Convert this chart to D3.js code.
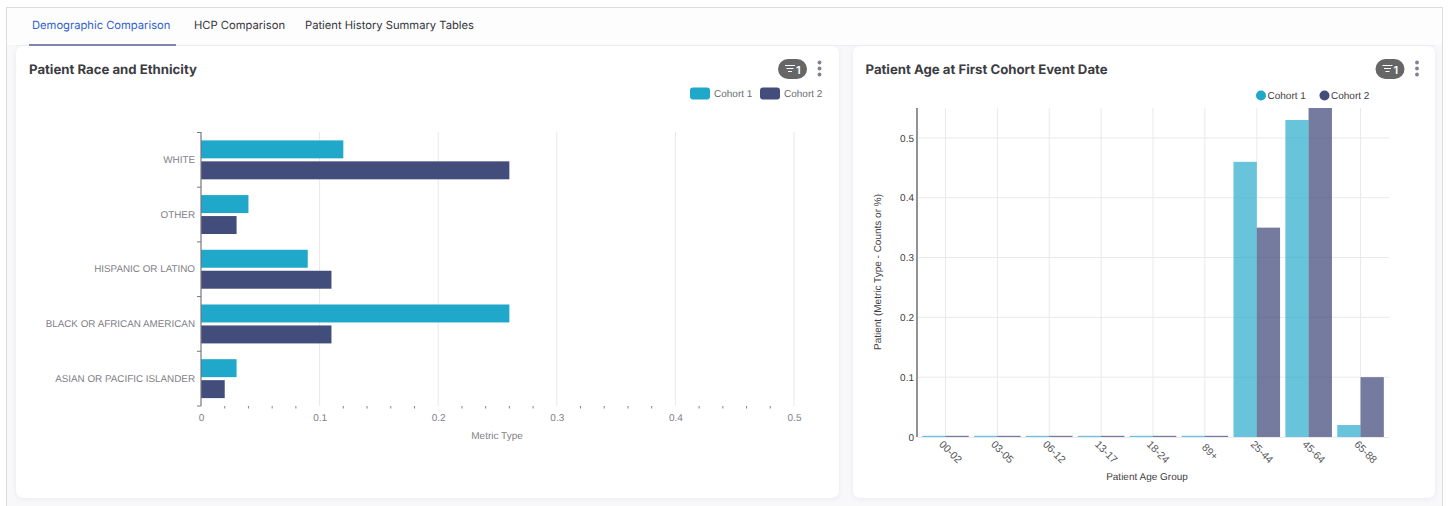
<!DOCTYPE html>
<html>
<head>
<meta charset="utf-8">
<script src="https://cdn.jsdelivr.net/npm/d3@7"></script>
<style>
  html, body { margin: 0; padding: 0; background: #fff; overflow: hidden; }
  svg { display: block; text-rendering: geometricPrecision; }
  text { font-family: "Liberation Sans", Arial, sans-serif; }
  .ui { font-family: "Inter", "Noto Sans", sans-serif; }
</style>
</head>
<body>
<svg id="page" width="1449" height="506"></svg>
<script>
// Race and ethnicity panel
const raceCategories = ["WHITE", "OTHER", "HISPANIC OR LATINO", "BLACK OR AFRICAN AMERICAN", "ASIAN OR PACIFIC ISLANDER"];
const raceCohort1 = [0.12, 0.04, 0.09, 0.26, 0.03];
const raceCohort2 = [0.26, 0.03, 0.11, 0.11, 0.02];
const raceTicks = [0, 0.1, 0.2, 0.3, 0.4, 0.5];
const raceMinorTicks = [0.02, 0.04, 0.06, 0.08, 0.12, 0.14, 0.16, 0.18, 0.22, 0.24, 0.26, 0.28, 0.32, 0.34, 0.36, 0.38, 0.42, 0.44, 0.46, 0.48];

// Age panel
const ageGroups = ["00-02", "03-05", "06-12", "13-17", "18-24", "89+", "25-44", "45-64", "65-88"];
const ageCohort1 = [0.002, 0.002, 0.002, 0.002, 0.002, 0.002, 0.46, 0.53, 0.02];
const ageCohort2 = [0.002, 0.002, 0.002, 0.002, 0.002, 0.002, 0.35, 0.55, 0.10];
const ageTicks = [0, 0.1, 0.2, 0.3, 0.4, 0.5];

const tabs = ["Demographic Comparison", "HCP Comparison", "Patient History Summary Tables"];
const seriesNames = ["Cohort 1", "Cohort 2"];
const TEAL = "#1fa8ca";
const NAVY = "#434d7c";

const svg = d3.select("#page");

// Page shell: outer frame and the two cards
svg.append("rect").attr("width", 1449).attr("height", 506).attr("fill", "#ffffff");
svg.append("rect").attr("x", 6.5).attr("y", 7.5).attr("width", 1436).attr("height", 510)
  .attr("fill", "#f8f8fb").attr("stroke", "#dcdce0");
svg.append("rect").attr("x", 7).attr("y", 8).attr("width", 1435).attr("height", 37).attr("fill", "#fdfdfe");

const defs = svg.append("defs");
const shadow = defs.append("filter").attr("id", "cardShadow")
  .attr("x", "-2%").attr("y", "-2%").attr("width", "104%").attr("height", "104%");
shadow.append("feDropShadow").attr("dx", 0).attr("dy", 1).attr("stdDeviation", 2)
  .attr("flood-color", "#c9c9d8").attr("flood-opacity", 0.35);

[[16, 46, 823, 452], [853, 46, 582, 452]].forEach(([x, y, w, h]) => {
  svg.append("rect").attr("x", x).attr("y", y).attr("width", w).attr("height", h)
    .attr("rx", 7).attr("fill", "#fff").attr("filter", "url(#cardShadow)");
});

// Tab strip
svg.append("line").attr("x1", 16).attr("x2", 1435).attr("y1", 45.5).attr("y2", 45.5).attr("stroke", "#ecedf2");
const tabX = [32, 194, 305];
tabs.forEach((t, i) => {
  svg.append("text").attr("class", "ui").attr("x", tabX[i]).attr("y", 29)
    .attr("font-size", 11.2).attr("fill", i === 0 ? "#2f62c9" : "#34363d").text(t);
});
svg.append("rect").attr("x", 29).attr("y", 44).attr("width", 147).attr("height", 2).attr("fill", "#7f86ad");

// Card header: title, filter pill and overflow dots
function cardHeader(title, titleX, pillX, dotsX) {
  svg.append("text").attr("class", "ui").attr("x", titleX).attr("y", 74)
    .attr("font-size", 13.2).attr("font-weight", 700).attr("fill", "#3c3d42").text(title);
  svg.append("rect").attr("x", pillX).attr("y", 59).attr("width", 29).attr("height", 20)
    .attr("rx", 10).attr("fill", "#666666");
  [[0, 10], [1.5, 7], [3, 4]].forEach(([inset, w], i) => {
    svg.append("line").attr("x1", pillX + 7 + inset).attr("x2", pillX + 7 + inset + w)
      .attr("y1", 65.5 + i * 3).attr("y2", 65.5 + i * 3).attr("stroke", "#fff").attr("stroke-width", 1);
  });
  svg.append("text").attr("class", "ui").attr("x", pillX + 18).attr("y", 73.5)
    .attr("font-size", 11).attr("font-weight", 600).attr("fill", "#fff").text("1");
  [62.5, 68.5, 74.5].forEach(cy => {
    svg.append("circle").attr("cx", dotsX).attr("cy", cy).attr("r", 1.9).attr("fill", "#7d8390");
  });
}
cardHeader("Patient Race and Ethnicity", 29, 778, 819.5);
cardHeader("Patient Age at First Cohort Event Date", 865.5, 1375.5, 1417);

// ---- Horizontal grouped bars ----
const raceX = d3.scaleLinear().domain([0, 0.5]).range([201, 794]);
const raceY = d3.scaleBand().domain(raceCategories).range([132.5, 406]);
const raceInner = d3.scaleBand().domain(seriesNames).range([0, raceY.bandwidth()]).paddingInner(0.143).paddingOuter(0.376);

svg.append("g").selectAll("line").data(raceTicks.slice(1)).join("line")
  .attr("x1", d => raceX(d)).attr("x2", d => raceX(d))
  .attr("y1", 132).attr("y2", 406).attr("stroke", "#e7e8ef").attr("stroke-width", 1);

seriesNames.forEach((name, s) => {
  const values = s === 0 ? raceCohort1 : raceCohort2;
  svg.append("g").selectAll("rect").data(raceCategories).join("rect")
    .attr("x", raceX(0))
    .attr("y", d => raceY(d) + raceInner(name))
    .attr("width", (d, i) => raceX(values[i]) - raceX(0))
    .attr("height", raceInner.bandwidth())
    .attr("fill", s === 0 ? TEAL : NAVY);
});

// Band-edge ticks on the category axis
const raceLeft = svg.append("g").attr("transform", "translate(201,0)");
raceLeft.append("line").attr("y1", 132).attr("y2", 406).attr("stroke", "#77787f").attr("stroke-width", 1.2);
raceLeft.selectAll("line.edge")
  .data(d3.range(raceCategories.length + 1).map(i => 132.5 + i * raceY.step()))
  .join("line").attr("class", "edge")
  .attr("x1", -4).attr("x2", 0).attr("y1", d => d).attr("y2", d => d).attr("stroke", "#77787f");
svg.append("g").selectAll("text").data(raceCategories).join("text")
  .attr("x", 195).attr("y", d => raceY(d) + raceY.bandwidth() / 2)
  .attr("text-anchor", "end").attr("dy", "0.32em")
  .attr("font-size", 9.85).attr("fill", "#7f8087").text(d => d);

const raceAxis = d3.axisBottom(raceX).tickValues(raceTicks).tickSize(0).tickPadding(0)
  .tickFormat(d => d === 0 ? "0" : d3.format(".1f")(d));
const raceAxisG = svg.append("g").attr("transform", "translate(0,406)").call(raceAxis);
raceAxisG.select(".domain").remove();
raceAxisG.selectAll("text").attr("y", 8).attr("dy", "0.71em")
  .attr("font-size", 10).attr("fill", "#7f8087")
  .style("font-family", '"Liberation Sans", Arial, sans-serif');

svg.append("g").selectAll("line").data(raceMinorTicks).join("line")
  .attr("x1", d => raceX(d)).attr("x2", d => raceX(d))
  .attr("y1", 406).attr("y2", 408.5).attr("stroke", "#85868d");

svg.append("text").attr("x", 497).attr("y", 439).attr("text-anchor", "middle")
  .attr("font-size", 10).attr("fill", "#7f8087").text("Metric Type");

// Rectangular legend
const rectLegendX = [690, 760];
seriesNames.forEach((name, i) => {
  svg.append("rect").attr("x", rectLegendX[i]).attr("y", 87.5).attr("width", 20).attr("height", 12)
    .attr("rx", 3).attr("fill", i === 0 ? TEAL : NAVY);
  svg.append("text").attr("x", rectLegendX[i] + 24).attr("y", 97)
    .attr("font-size", 10).attr("fill", "#6c6d74").text(name);
});

// ---- Vertical grouped bars ----
const ageX = d3.scaleBand().domain(ageGroups).range([919.5, 1386.5]);
const ageY = d3.scaleLinear().domain([0, 0.55]).range([437, 108]);
const ageInner = d3.scaleBand().domain(seriesNames).range([0, ageX.bandwidth()]).paddingOuter(0.114);

svg.append("g").selectAll("line").data(ageTicks.slice(1)).join("line")
  .attr("x1", 918).attr("x2", 1389).attr("y1", d => ageY(d)).attr("y2", d => ageY(d))
  .attr("stroke", "#e9e9ec").attr("stroke-width", 1);
svg.append("g").selectAll("line").data(ageGroups).join("line")
  .attr("x1", d => ageX(d) + ageX.bandwidth() / 2).attr("x2", d => ageX(d) + ageX.bandwidth() / 2)
  .attr("y1", 108).attr("y2", 437).attr("stroke", "#e9e9ec").attr("stroke-width", 1);
svg.append("line").attr("x1", 918).attr("x2", 1389).attr("y1", 437.5).attr("y2", 437.5).attr("stroke", "#e9e9ec");

seriesNames.forEach((name, s) => {
  const values = s === 0 ? ageCohort1 : ageCohort2;
  svg.append("g").selectAll("rect").data(ageGroups).join("rect")
    .attr("x", d => ageX(d) + ageInner(name))
    .attr("y", (d, i) => ageY(values[i]))
    .attr("width", ageInner.bandwidth())
    .attr("height", (d, i) => ageY(0) - ageY(values[i]))
    .attr("fill", s === 0 ? TEAL : NAVY)
    .attr("fill-opacity", s === 0 ? 0.68 : 0.74);
});

const ageAxis = d3.axisLeft(ageY).tickValues(ageTicks).tickSize(0).tickPadding(0)
  .tickFormat(d => d === 0 ? "0" : d3.format(".1f")(d));
const ageAxisG = svg.append("g").attr("transform", "translate(917,0)").call(ageAxis);
ageAxisG.select(".domain").remove();
ageAxisG.selectAll("text").attr("x", -3).attr("font-size", 10).attr("fill", "#3f4045")
  .style("font-family", '"Liberation Sans", Arial, sans-serif');
svg.append("line").attr("x1", 917).attr("x2", 917).attr("y1", 108).attr("y2", 437)
  .attr("stroke", "#4a4a4e").attr("stroke-width", 1.2);

svg.append("g").selectAll("text").data(ageGroups).join("text")
  .attr("transform", d => `translate(${ageX(d) + ageX.bandwidth() / 2 + 5},452) rotate(45)`)
  .attr("text-anchor", "middle").attr("dy", "0.32em")
  .attr("font-size", 10.5).attr("fill", "#55565b").text(d => d);

svg.append("text").attr("x", 1147).attr("y", 480).attr("text-anchor", "middle")
  .attr("font-size", 10).attr("fill", "#3f4045").text("Patient Age Group");
svg.append("text").attr("transform", "translate(881,272) rotate(-90)").attr("text-anchor", "middle")
  .attr("font-size", 10).attr("fill", "#3f4045").text("Patient (Metric Type - Counts or %)");

// Circular legend
const dotLegendX = [1261, 1324.5];
seriesNames.forEach((name, i) => {
  svg.append("circle").attr("cx", dotLegendX[i]).attr("cy", 95.5).attr("r", 5)
    .attr("fill", i === 0 ? TEAL : NAVY);
  svg.append("text").attr("x", dotLegendX[i] + 6.5).attr("y", 99)
    .attr("font-size", 10).attr("fill", "#3f4045").text(name);
});
</script>
</body>
</html>
